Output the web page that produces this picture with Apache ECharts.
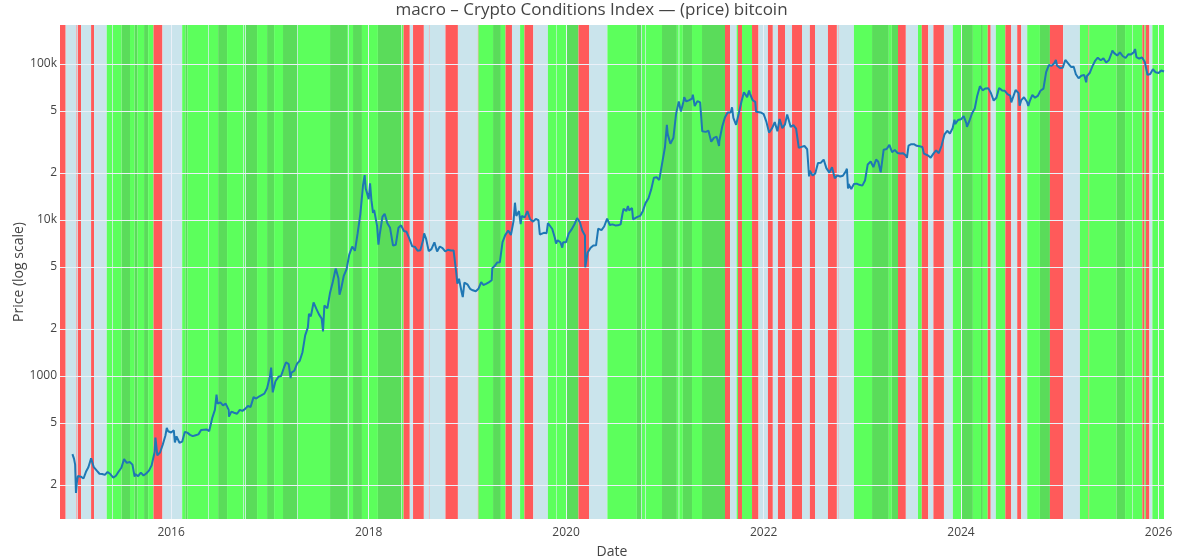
<!DOCTYPE html>
<html><head><meta charset="utf-8">
<script src="https://cdn.jsdelivr.net/npm/echarts@6/dist/echarts.min.js"></script>
<style>html,body{margin:0;padding:0;background:#fff}#c{width:1183px;height:560px}</style>
</head><body><div id="c"></div>
<script>
const titleText = 'macro – Crypto Conditions Index — (price) bitcoin';
const yAxisName = 'Price (log scale)';
const xAxisName = 'Date';
const yTickValues = [200, 500, 1000, 2000, 5000, 10000, 20000, 50000, 100000];
const xTickDates = ['2016-01-01', '2018-01-01', '2020-01-01', '2022-01-01', '2024-01-01', '2026-01-01'];
const xRange = ['2014-11-16', '2026-01-21'];
const yRange = [121, 177800];

// regime bands: start date of each band, state code; each band ends where the next starts
const bandStart = ['2014-11-16','2014-12-07','2015-01-15','2015-01-17','2015-01-21','2015-02-02','2015-03-11','2015-03-22','2015-05-08','2015-05-29','2015-05-31','2015-07-02','2015-08-02','2015-08-19','2015-08-30','2015-09-23','2015-10-08','2015-10-28','2015-11-30','2016-01-02','2016-01-04','2016-02-11','2016-02-23','2016-03-02','2016-05-18','2016-05-20','2016-06-23','2016-07-26','2016-09-24','2016-09-26','2016-10-02','2016-10-04','2016-11-14','2016-12-21','2017-01-16','2017-02-18','2017-04-12','2017-04-14','2017-08-11','2017-10-13','2017-10-18','2017-10-20','2017-11-04','2017-12-07','2018-02-04','2018-05-01','2018-05-03','2018-05-10','2018-06-02','2018-06-14','2018-07-24','2018-08-12','2018-08-14','2018-10-12','2018-11-27','2019-02-09','2019-02-11','2019-04-06','2019-05-05','2019-05-22','2019-06-15','2019-07-15','2019-07-31','2019-09-02','2019-10-26','2019-11-25','2019-11-27','2020-01-02','2020-02-16','2020-03-26','2020-06-02','2020-09-19','2020-10-06','2020-10-08','2020-10-20','2020-10-22','2020-12-21','2021-02-14','2021-02-21','2021-02-23','2021-03-08','2021-04-11','2021-05-18','2021-08-11','2021-08-30','2021-09-23','2021-09-28','2021-10-13','2021-11-19','2021-12-13','2022-01-17','2022-02-04','2022-02-23','2022-03-21','2022-04-16','2022-05-23','2022-06-21','2022-07-10','2022-08-27','2022-09-29','2022-10-03','2022-10-05','2022-12-01','2023-02-06','2023-04-09','2023-04-20','2023-05-13','2023-06-11','2023-07-26','2023-08-09','2023-09-02','2023-09-21','2023-10-30','2023-12-02','2024-01-02','2024-02-14','2024-03-15','2024-03-22','2024-04-09','2024-04-20','2024-05-09','2024-06-13','2024-07-05','2024-07-27','2024-08-11','2024-09-02','2024-10-19','2024-11-25','2025-01-13','2025-03-16','2025-04-17','2025-04-19','2025-07-29','2025-08-30','2025-09-25','2025-09-27','2025-11-02','2025-11-10','2025-11-15','2025-11-28','2025-12-09'];
const bandState = ['R','B','R','B','R','B','R','B','G','B','G','D','G','D','G','D','G','R','B','R','B','G','D','G','B','G','D','G','B','G','B','D','G','D','G','D','B','G','D','G','B','G','D','G','D','B','G','R','B','R','B','R','B','R','B','R','G','D','G','R','B','G','R','B','G','B','G','D','R','B','G','D','B','G','B','G','D','G','B','G','D','G','D','R','B','G','R','G','R','B','R','B','R','B','R','B','R','B','R','B','R','B','G','D','G','D','R','B','G','R','B','R','B','G','D','G','D','G','R','B','G','R','B','R','B','G','D','R','B','G','R','G','D','G','B','G','R','G','R','B','G'];
const bandEnd = '2026-01-21';
const stateColors = {R: '#FF5A5A', B: '#CAE4EC', G: '#5CFF5C', D: '#5ADC5A'};

// bitcoin price (USD), [month-day, price] per year
const p2015 = [['01-01',315],['01-07',294],['01-11',270],['01-14',178],['01-17',205],['01-21',228],['02-01',226],['02-11',220],['02-21',245],['03-01',260],['03-11',296],['03-21',260],['04-01',247],['04-11',236],['04-21',235],['05-01',232],['05-11',242],['05-21',235],['06-01',223],['06-11',229],['06-21',244],['07-01',258],['07-11',293],['07-21',277],['08-01',281],['08-11',270],['08-19',226],['08-21',235],['09-01',228],['09-11',240],['09-21',230],['10-01',237],['10-11',247],['10-21',267],['11-01',325],['11-04',403],['11-11',310],['11-21',323],['12-01',362],['12-11',415],['12-16',465],['12-21',442]];
const p2016 = [['01-01',434],['01-11',448],['01-15',375],['01-21',410],['02-01',373],['02-11',379],['02-21',438],['03-01',433],['03-11',419],['03-21',411],['04-01',417],['04-11',422],['04-21',450],['05-01',452],['05-11',454],['05-21',443],['06-01',536],['06-11',606],['06-17',760],['06-21',665],['07-01',677],['07-11',648],['07-21',665],['08-01',606],['08-02',548],['08-11',590],['08-21',581],['09-01',572],['09-11',606],['09-21',597],['10-01',615],['10-11',641],['10-21',632],['11-01',731],['11-11',716],['11-21',738],['12-01',754],['12-11',770],['12-21',834]];
const p2017 = [['01-01',998],['01-05',1130],['01-11',785],['01-21',924],['02-01',987],['02-11',1000],['02-21',1125],['03-01',1222],['03-11',1190],['03-18',970],['03-21',1050],['04-01',1080],['04-11',1200],['04-21',1250],['05-01',1420],['05-11',1820],['05-21',2050],['05-25',2500],['06-01',2410],['06-11',2960],['06-21',2700],['07-01',2480],['07-11',2330],['07-16',1930],['07-21',2830],['08-01',2710],['08-11',3420],['08-21',4000],['09-01',4890],['09-11',4230],['09-15',3320],['09-21',3620],['10-01',4400],['10-11',4830],['10-21',6000],['11-01',6750],['11-11',6340],['11-21',8200],['12-01',10900],['12-11',16700],['12-17',19400],['12-21',15900]];
const p2018 = [['01-01',13600],['01-06',17200],['01-11',13400],['01-17',11100],['01-21',11600],['02-01',9170],['02-06',6950],['02-11',8130],['02-21',10500],['03-01',10950],['03-11',9530],['03-21',8900],['04-01',6850],['04-11',6930],['04-21',8900],['05-01',9240],['05-11',8500],['05-21',8400],['06-01',7540],['06-11',6780],['06-21',6720],['07-01',6350],['07-11',6390],['07-21',7400],['07-25',8200],['08-01',7600],['08-11',6310],['08-21',6500],['09-01',7190],['09-11',6280],['09-21',6760],['10-01',6600],['10-11',6280],['10-21',6440],['11-01',6380],['11-11',6380],['11-21',4560],['11-25',3900],['12-01',4200],['12-11',3430],['12-15',3200],['12-21',3970]];
const p2019 = [['01-01',3870],['01-11',3620],['01-21',3540],['02-01',3490],['02-11',3620],['02-21',3990],['03-01',3830],['03-11',3890],['03-21',3980],['04-01',4110],['04-03',4900],['04-11',5040],['04-21',5330],['05-01',5350],['05-11',7210],['05-21',7990],['06-01',8560],['06-11',8000],['06-21',9900],['06-26',12900],['07-01',10600],['07-11',11400],['07-17',9400],['07-21',10600],['08-01',10400],['08-11',11400],['08-21',10100],['09-01',9760],['09-11',10150],['09-21',9960],['09-26',8070],['10-01',8300],['10-11',8270],['10-21',8230],['10-26',9550],['11-01',9250],['11-11',8750],['11-21',7630],['11-25',7050],['12-01',7420],['12-11',7200],['12-18',6640],['12-21',7190]];
const p2020 = [['01-01',7200],['01-11',8190],['01-21',8660],['02-01',9390],['02-11',10280],['02-13',10350],['02-21',9690],['03-01',8560],['03-11',7940],['03-12',4970],['03-16',5000],['03-21',6190],['04-01',6640],['04-11',6870],['04-21',6880],['04-29',8800],['05-01',8860],['05-11',8600],['05-21',9080],['06-01',10200],['06-11',9280],['06-21',9370],['07-01',9230],['07-11',9240],['07-21',9380],['07-28',11000],['08-01',11800],['08-11',11400],['08-17',12300],['08-21',11530],['09-01',11900],['09-05',10100],['09-11',10340],['09-21',10460],['10-01',10620],['10-11',11390],['10-21',12820],['11-01',13780],['11-11',15700],['11-21',18680],['12-01',18800],['12-11',18050],['12-21',22800]];
const p2021 = [['01-01',29370],['01-08',40800],['01-11',35500],['01-21',30800],['02-01',33500],['02-11',47900],['02-21',57500],['03-01',49600],['03-11',57800],['03-13',61200],['03-21',57500],['04-01',58700],['04-11',60000],['04-14',63500],['04-21',53800],['05-01',57800],['05-11',56700],['05-19',37000],['05-21',37300],['06-01',36700],['06-11',37300],['06-21',31700],['07-01',33600],['07-11',34200],['07-20',29800],['07-21',32100],['08-01',39900],['08-11',45600],['08-21',48900],['09-01',48800],['09-06',52700],['09-11',45200],['09-21',40700],['10-01',48100],['10-11',57400],['10-20',65900],['11-01',61300],['11-08',67500],['11-11',64900],['11-21',58600],['12-01',57200],['12-04',49400],['12-11',49400],['12-21',48900]];
const p2022 = [['01-01',47700],['01-11',42700],['01-21',36300],['01-24',36600],['02-01',38700],['02-11',42400],['02-21',37000],['03-01',44400],['03-11',38800],['03-21',41000],['03-29',47500],['04-01',46300],['04-11',39500],['04-21',40500],['05-01',38500],['05-11',29000],['05-21',29400],['06-01',29800],['06-11',28400],['06-18',19000],['06-21',20700],['07-01',19300],['07-11',19900],['07-21',23200],['08-01',23300],['08-11',24400],['08-21',21500],['09-01',20100],['09-11',21800],['09-21',18500],['10-01',19300],['10-11',19000],['10-21',19200],['11-01',20500],['11-05',21300],['11-09',15900],['11-11',17000],['11-21',15800],['12-01',17000],['12-11',17100],['12-21',16800]];
const p2023 = [['01-01',16600],['01-11',17900],['01-21',22700],['02-01',23700],['02-11',21800],['02-21',24400],['03-01',23600],['03-10',20200],['03-11',20600],['03-21',28200],['04-01',28500],['04-11',30300],['04-21',27200],['05-01',28100],['05-11',26900],['05-21',26700],['06-01',26800],['06-11',25900],['06-15',25000],['06-21',30000],['07-01',30600],['07-11',30600],['07-21',29900],['08-01',29700],['08-11',29400],['08-17',26600],['08-21',26100],['09-01',25900],['09-11',25100],['09-21',26600],['10-01',27900],['10-11',26800],['10-21',29900],['11-01',35400],['11-11',37300],['11-21',35800],['12-01',38700],['12-08',43900],['12-11',41200],['12-21',43700]];
const p2024 = [['01-01',44200],['01-11',46300],['01-21',41600],['01-23',39500],['02-01',43100],['02-11',48300],['02-21',51800],['03-01',62400],['03-11',72100],['03-14',73100],['03-21',67800],['04-01',69700],['04-11',70000],['04-21',64900],['05-01',58300],['05-11',60800],['05-21',70100],['06-01',67700],['06-11',67300],['06-21',64100],['07-01',62700],['07-05',56700],['07-11',57700],['07-21',68100],['08-01',65000],['08-05',54000],['08-11',58700],['08-21',61200],['09-01',57300],['09-06',53900],['09-11',57600],['09-21',63300],['10-01',60800],['10-11',62400],['10-21',67300],['11-01',69500],['11-11',88700],['11-21',98400],['12-01',97300],['12-11',101200],['12-17',106100],['12-21',97700]];
const p2025 = [['01-01',94400],['01-11',94500],['01-21',106100],['02-01',100600],['02-11',95700],['02-21',96100],['03-01',86000],['03-11',81000],['03-21',84000],['04-01',85100],['04-08',76300],['04-11',83800],['04-21',87500],['05-01',96500],['05-11',104600],['05-21',109700],['06-01',105600],['06-11',108600],['06-21',102200],['07-01',105700],['07-11',117500],['07-14',121900],['07-21',117400],['08-01',113300],['08-11',118700],['08-14',118300],['08-21',112500],['09-01',109200],['09-11',115500],['09-21',115200],['10-01',118600],['10-06',124700],['10-11',110700],['10-21',108400],['11-01',110100],['11-11',103000],['11-21',85100],['12-01',86300],['12-11',92500],['12-21',88400]];
const p2026 = [['01-01',87500],['01-11',90800],['01-21',89500]];

const priceYears = {2015: p2015, 2016: p2016, 2017: p2017, 2018: p2018, 2019: p2019, 2020: p2020, 2021: p2021, 2022: p2022, 2023: p2023, 2024: p2024, 2025: p2025, 2026: p2026};

function ts(s) { return new Date(s + 'T00:00:00').getTime(); }

const priceData = [];
Object.keys(priceYears).forEach(function (y) {
  priceYears[y].forEach(function (p) { priceData.push([ts(y + '-' + p[0]), p[1]]); });
});

const bandData = bandStart.map(function (s, i) {
  const e = i < bandStart.length - 1 ? bandStart[i + 1] : bandEnd;
  return [ts(s), ts(e)];
});

const fontFamily = '"Open Sans", verdana, arial, sans-serif';
const chart = echarts.init(document.getElementById('c'), null, {renderer: 'canvas'});
chart.setOption({
  animation: false,
  backgroundColor: '#fff',
  textStyle: {fontFamily: fontFamily},
  title: {
    text: titleText, left: 'center', top: 2, padding: [0, 0, 0, 0],
    textStyle: {fontSize: 17, fontWeight: 'normal', color: '#444', fontFamily: fontFamily}
  },
  grid: {left: 60, right: 19, top: 25, bottom: 41, containLabel: false, outerBoundsMode: 'none'},
  xAxis: {
    type: 'value', min: ts(xRange[0]), max: ts(xRange[1]), scale: true,
    name: xAxisName, nameLocation: 'middle', nameGap: 26, nameMoveOverlap: false,
    nameTextStyle: {fontSize: 14, color: '#444', fontFamily: fontFamily},
    axisLine: {show: false},
    axisTick: {show: false, customValues: xTickDates.map(ts)},
    axisLabel: {
      customValues: xTickDates.map(ts), margin: 8, fontSize: 12, color: '#444', fontFamily: fontFamily,
      formatter: function (v) { return String(new Date(v).getFullYear()); }
    },
    splitLine: {show: true, lineStyle: {color: '#EBF0F8', width: 1}}
  },
  yAxis: {
    type: 'log', logBase: 10, min: yRange[0], max: yRange[1],
    name: yAxisName, nameLocation: 'middle', nameGap: 34, nameRotate: 90, nameMoveOverlap: false,
    nameTextStyle: {fontSize: 14, color: '#444', fontFamily: fontFamily},
    axisLine: {show: false},
    axisTick: {show: false, customValues: yTickValues},
    axisLabel: {
      customValues: yTickValues, margin: 3, fontSize: 12, color: '#444', fontFamily: fontFamily,
      formatter: function (v) {
        v = Math.round(v);
        if (v >= 100000) return (v / 1000) + 'k';
        if (v === 10000) return '10k';
        if (v === 1000) return '1000';
        return String(v).charAt(0);
      }
    },
    splitLine: {show: true, lineStyle: {color: '#EBF0F8', width: 1}}
  },
  series: [
    {
      type: 'custom', name: 'regime', silent: true, z: -1,
      encode: {x: [0, 1]},
      data: bandData,
      renderItem: function (params, api) {
        const cs = params.coordSys;
        const x0 = api.coord([api.value(0), yRange[0]])[0];
        const x1 = api.coord([api.value(1), yRange[0]])[0];
        return {
          type: 'rect',
          shape: {x: x0, y: cs.y, width: x1 - x0, height: cs.height},
          style: {fill: stateColors[bandState[params.dataIndex]]}
        };
      }
    },
    {
      type: 'line', name: 'bitcoin', data: priceData, showSymbol: false, z: 5,
      lineStyle: {color: '#1f77b4', width: 2}, itemStyle: {color: '#1f77b4'}
    }
  ]
});
</script></body></html>
